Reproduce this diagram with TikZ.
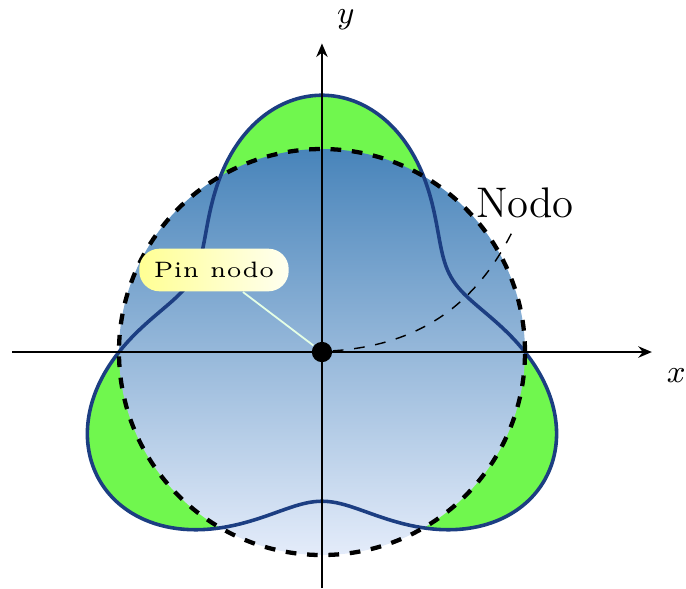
\documentclass[tikz,border=0pt]{standalone}
\usepackage{tikz}
\usetikzlibrary{arrows.meta, positioning}
\definecolor{lobegreen}{RGB}{112,247,78}
\definecolor{curveblue}{RGB}{28,62,130}
\definecolor{shadetop}{RGB}{72,132,186}
\definecolor{shadebot}{RGB}{228,236,250}

\begin{document}
\begin{tikzpicture}[
  >={Stealth[length=3.8pt, width=3.2pt]},
  axis/.style={->, line width=0.5pt},
  rose/.style={draw=curveblue, line width=1pt, line join=round},
  disc/.style={draw, very thick, dashed},
  pinbox/.style={rounded corners=2mm, left color=yellow!42, right color=yellow!6,
    inner xsep=4pt, minimum height=4.2mm},
  pinline/.style={draw=green!10!white, line width=0.5pt},
  origin/.style={circle, fill=black, inner sep=0pt, minimum size=2mm},
]
\useasboundingbox (-3.172,-2.325) rectangle (3.586,3.468);

% Three-lobed curve, filled
\fill[lobegreen] plot[domain=0:360, samples=240, smooth] (\x:{2-0.53*sin(3*\x)}) -- cycle;

% Shaded disc on top
\shade[top color=shadetop, bottom color=shadebot] (0,0) circle (2);

% Outlines
\draw[rose] plot[domain=0:360, samples=240, smooth] (\x:{2-0.53*sin(3*\x)}) -- cycle;
\draw[disc] (0,0) circle (2);

% Axes
\draw[axis] (-3.05,0) -- (3.25,0);
\draw[axis] (0,-2.325) -- (0,3.04);
\node[font=\small] (xlab) at (3.49,-0.23) {$x$};
\node[font=\small] (ylab) at (0.236,3.27) {$y$};

% Origin dot, pin and node
\node[origin] (dot) at (0,0) {};
\node[pinbox] (pin) at (-1.064,0.808) {\scalebox{1.25}{\tiny Pin nodo}};
\draw[pinline] (pin) -- (dot);

\node[font=\large] (nodo) at (2.0,1.47) {Nodo};
\draw[dashed, thin] (dot) to[bend right=30] (nodo);

\end{tikzpicture}
\end{document}
